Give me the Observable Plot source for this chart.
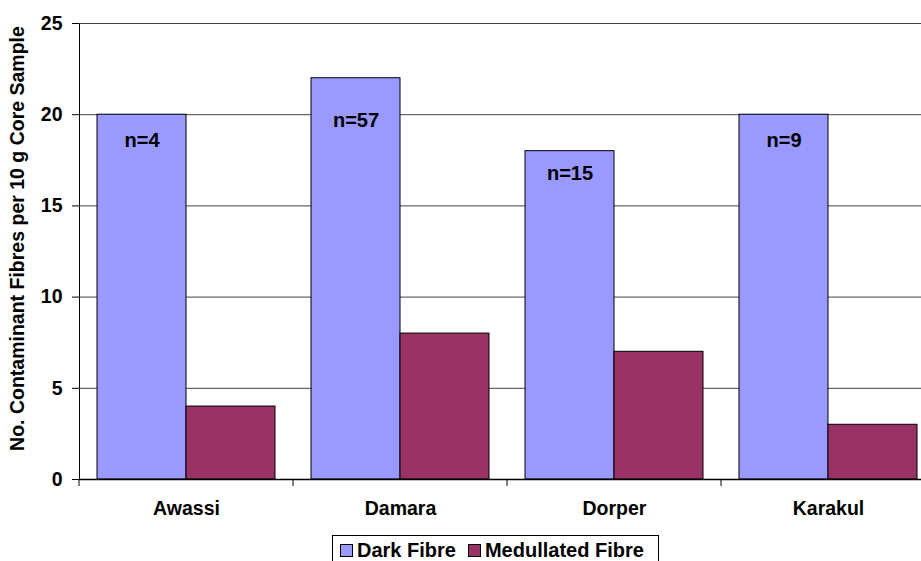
<!DOCTYPE html>
<html>
<head>
<meta charset="utf-8">
<script src="https://cdn.jsdelivr.net/npm/d3@7"></script>
<script src="https://cdn.jsdelivr.net/npm/@observablehq/plot@0.6"></script>
<style>
  html, body { margin: 0; padding: 0; background: #fff; overflow: hidden; }
  #chart svg { display: block; max-width: none !important; height: 535px !important; }
  #legend {
    position: absolute; left: 332px; top: 535px;
    width: 327px; height: 40px; box-sizing: border-box;
    border: 1px solid #000; background: #fff;
    font: bold 20px "Liberation Sans", Arial, sans-serif; color: #000;
    padding: 3px 0 0 7px; white-space: nowrap; line-height: 22px;
  }
  #legend .item { display: inline-block; margin-right: 12px; }
  #legend .sw {
    display: inline-block; width: 11px; height: 11px; border: 1px solid #000;
    margin-right: 4px; vertical-align: 0px;
  }
</style>
</head>
<body>
<div id="chart"></div>
<div id="legend"></div>
<script>
// Contaminant fibre counts per 10 g core sample, by breed
const breeds = ["Awassi", "Damara", "Dorper", "Karakul"];
const seriesNames = ["Dark Fibre", "Medullated Fibre"];
const darkFibre = [20, 22, 18, 20];
const medullatedFibre = [4, 8, 7, 3];
const sampleSizes = ["n=4", "n=57", "n=15", "n=9"];
const yTicks = [0, 5, 10, 15, 20, 25];
const colors = ["#9999FF", "#993366"];

const rows = breeds.flatMap((b, i) => [
  {breed: b, series: seriesNames[0], value: darkFibre[i]},
  {breed: b, series: seriesNames[1], value: medullatedFibre[i]}
]);

// vertical offsets of the sample-size labels below each bar top
const labelDy = [26, 42, 22, 26];

// tick marks at the category boundaries along the bottom axis
function boundaryTicks(index, scales, values, dimensions) {
  const x = scales.x;
  const bw = x.bandwidth ? x.bandwidth() : (x(breeds[1]) - x(breeds[0]));
  const y0 = dimensions.height - dimensions.marginBottom;
  const g = d3.create("svg:g");
  const edges = breeds.map(b => x(b)).concat([x(breeds[breeds.length - 1]) + bw]);
  for (const e of edges) {
    g.append("line")
      .attr("x1", e).attr("x2", e)
      .attr("y1", y0).attr("y2", y0 + 7)
      .attr("stroke", "#000").attr("stroke-width", 1);
  }
  return g.node();
}

const chart = Plot.plot({
  width: 935,
  height: 535,
  marginLeft: 79,
  marginRight: 0,
  marginTop: 23,
  marginBottom: 56,
  style: {
    fontFamily: "'Liberation Sans', Arial, sans-serif",
    fontSize: "19.5px",
    fontWeight: "bold",
    color: "#000",
    background: "#fff"
  },
  x: {
    domain: breeds,
    paddingInner: 0,
    paddingOuter: 0,
    tickSize: 0,
    tickPadding: 22,
    label: null
  },
  y: {
    domain: [0, 25],
    ticks: yTicks,
    tickSize: 7,
    tickPadding: 10,
    line: true,
    label: null
  },
  marks: [
    Plot.ruleY(yTicks.filter(t => t > 0), {stroke: "#444", strokeWidth: 1}),
    Plot.barY(rows.filter(d => d.series === seriesNames[0]), {
      x: "breed", y: "value", fill: colors[0], stroke: "#000", strokeWidth: 1,
      insetLeft: 18, insetRight: 107
    }),
    Plot.barY(rows.filter(d => d.series === seriesNames[1]), {
      x: "breed", y: "value", fill: colors[1], stroke: "#000", strokeWidth: 1,
      insetLeft: 107, insetRight: 18
    }),
    ...breeds.map((b, i) => Plot.text([i], {
      x: () => b, y: () => darkFibre[i], text: () => sampleSizes[i],
      dx: -44.5, dy: labelDy[i], fontSize: 20, fontWeight: "bold", fill: "#000"
    })),
    Plot.ruleY([0], {stroke: "#000", strokeWidth: 1.5}),
    boundaryTicks,
    Plot.text(["No. Contaminant Fibres per 10 g Core Sample"], {
      text: d => d, frameAnchor: "left", textAnchor: "middle", rotate: -90,
      dx: -62, dy: -13, fontSize: 19.5, fontWeight: "bold", fill: "#000"
    })
  ]
});
document.getElementById("chart").appendChild(chart);

// legend below the chart
const legend = d3.select("#legend");
seriesNames.forEach((name, i) => {
  const item = legend.append("span").attr("class", "item");
  item.append("span").attr("class", "sw").style("background", colors[i]);
  item.append("span").text(name);
});
</script>
</body>
</html>
